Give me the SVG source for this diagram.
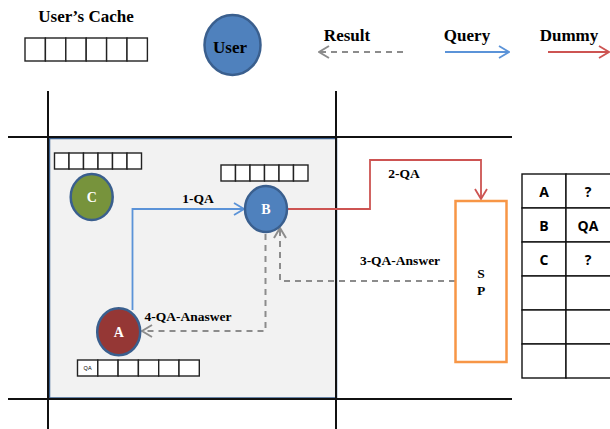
<svg xmlns="http://www.w3.org/2000/svg" width="610" height="429" viewBox="0 0 610 429">
  <style>
    .serif { font-family: "Liberation Serif", "Times New Roman", serif; font-weight: bold; fill: #000; }
    .lbl { font-size: 13.5px; text-anchor: middle; dominant-baseline: central; }
    .head { font-size: 17px; text-anchor: middle; dominant-baseline: central; }
    .node-txt { font-family: "Liberation Serif", serif; font-weight: bold; font-size: 14px; fill: #fff; text-anchor: middle; dominant-baseline: central; }
    .cell { fill: #fff; stroke: #222; stroke-width: 1.4; }
    .grid { stroke: #111; stroke-width: 2; fill: none; }
    .tbl { fill: #fff; stroke: #111; stroke-width: 1.4; }
    .tbl-txt { font-family: "Open Sans", "Liberation Sans", sans-serif; font-weight: bold; font-size: 14px; fill: #000; text-anchor: middle; dominant-baseline: central; }
    .query { stroke: #5b93d8; stroke-width: 1.8; fill: none; }
    .dummy { stroke: #cd5452; stroke-width: 1.8; fill: none; }
    .result { stroke: #8c8c8c; stroke-width: 2; fill: none; stroke-dasharray: 6 5; }
    .node { stroke: #3a5f8e; stroke-width: 2.5; }
  </style>
  <defs>
    <marker id="arrQuery" viewBox="0 0 12 14" refX="11" refY="7" markerWidth="12" markerHeight="14" markerUnits="userSpaceOnUse" orient="auto">
      <polyline points="1,1 11,7 1,13" fill="none" stroke="#5b93d8" stroke-width="1.8"/>
    </marker>
    <marker id="arrDummy" viewBox="0 0 12 14" refX="11" refY="7" markerWidth="12" markerHeight="14" markerUnits="userSpaceOnUse" orient="auto">
      <polyline points="1,1 11,7 1,13" fill="none" stroke="#cd5452" stroke-width="1.8"/>
    </marker>
    <marker id="arrResult" viewBox="0 0 12 14" refX="11" refY="7" markerWidth="12" markerHeight="14" markerUnits="userSpaceOnUse" orient="auto">
      <polyline points="1,1 11,7 1,13" fill="none" stroke="#8c8c8c" stroke-width="2"/>
    </marker>
  </defs>

  <rect width="610" height="429" fill="#fff"/>

  <!-- legend -->
  <g id="legend">
    <text class="serif head" x="86" y="16">User’s Cache</text>
    <g>
      <rect class="cell" x="25" y="38" width="20.4" height="23"/>
      <rect class="cell" x="45.4" y="38" width="20.4" height="23"/>
      <rect class="cell" x="65.8" y="38" width="20.4" height="23"/>
      <rect class="cell" x="86.2" y="38" width="20.4" height="23"/>
      <rect class="cell" x="106.6" y="38" width="20.4" height="23"/>
      <rect class="cell" x="127" y="38" width="20.4" height="23"/>
    </g>
    <ellipse class="node" cx="232.5" cy="45" rx="28" ry="30" fill="#4f81bd"/>
    <text class="serif head" x="230" y="47">User</text>

    <text class="serif head" x="347" y="35">Result</text>
    <line class="result" x1="403" y1="52" x2="319" y2="52" marker-end="url(#arrResult)"/>
    <text class="serif head" x="467" y="35">Query</text>
    <line class="query" x1="445" y1="52" x2="509" y2="52" marker-end="url(#arrQuery)"/>
    <text class="serif head" x="569" y="35">Dummy</text>
    <line class="dummy" x1="548" y1="52" x2="609" y2="52" marker-end="url(#arrDummy)"/>
  </g>

  <!-- region and grid -->
  <g id="region">
    <rect x="49.5" y="138.5" width="287" height="259.5" fill="#f2f2f2" stroke="#3a5f8e" stroke-width="1.5"/>
    <line class="grid" x1="48" y1="91" x2="48" y2="429"/>
    <line class="grid" x1="336" y1="91" x2="336" y2="429"/>
    <line class="grid" x1="8" y1="137" x2="512" y2="137"/>
    <line class="grid" x1="8" y1="399" x2="512" y2="399"/>
  </g>

  <!-- connectors -->
  <g id="connectors">
    <polyline class="query" points="132.5,310 132.5,209 244,209" marker-end="url(#arrQuery)"/>
    <text class="serif lbl" x="198" y="198">1-QA</text>
    <polyline class="dummy" points="288,209 370,209 370,160 481,160 481,199" marker-end="url(#arrDummy)"/>
    <text class="serif lbl" x="404" y="173">2-QA</text>
    <polyline class="result" points="455,281 280,281 280,228" marker-end="url(#arrResult)"/>
    <text class="serif lbl" x="400" y="260">3-QA-Answer</text>
    <polyline class="result" points="265.5,234 265.5,331 142,331" marker-end="url(#arrResult)"/>
    <text class="serif lbl" x="188" y="316">4-QA-Anaswer</text>
  </g>

  <!-- node C -->
  <g id="node-c">
    <g>
      <rect class="cell" x="54.5" y="153" width="14.5" height="16"/>
      <rect class="cell" x="69" y="153" width="14.5" height="16"/>
      <rect class="cell" x="83.5" y="153" width="14.5" height="16"/>
      <rect class="cell" x="98" y="153" width="14.5" height="16"/>
      <rect class="cell" x="112.5" y="153" width="14.5" height="16"/>
      <rect class="cell" x="127" y="153" width="14.5" height="16"/>
    </g>
    <ellipse class="node" cx="91.7" cy="197" rx="21" ry="23" fill="#77933c"/>
    <text class="node-txt" x="91.7" y="197">C</text>
  </g>

  <!-- node B -->
  <g id="node-b">
    <g>
      <rect class="cell" x="221" y="165" width="14.5" height="16"/>
      <rect class="cell" x="235.5" y="165" width="14.5" height="16"/>
      <rect class="cell" x="250" y="165" width="14.5" height="16"/>
      <rect class="cell" x="264.5" y="165" width="14.5" height="16"/>
      <rect class="cell" x="279" y="165" width="14.5" height="16"/>
      <rect class="cell" x="293.5" y="165" width="14.5" height="16"/>
    </g>
    <ellipse class="node" cx="266" cy="209" rx="21" ry="23" fill="#4f81bd"/>
    <text class="node-txt" x="266" y="209">B</text>
  </g>

  <!-- node A -->
  <g id="node-a">
    <g>
      <rect class="cell" x="77.5" y="360" width="20.3" height="16"/>
      <rect class="cell" x="97.8" y="360" width="20.3" height="16"/>
      <rect class="cell" x="118.1" y="360" width="20.3" height="16"/>
      <rect class="cell" x="138.4" y="360" width="20.3" height="16"/>
      <rect class="cell" x="158.7" y="360" width="20.3" height="16"/>
      <rect class="cell" x="179" y="360" width="20.3" height="16"/>
      <text x="87.6" y="368" font-family="Liberation Sans, sans-serif" font-size="5.5" text-anchor="middle" dominant-baseline="central" fill="#000">QA</text>
    </g>
    <ellipse class="node" cx="118.7" cy="331.7" rx="21.5" ry="23.5" fill="#953735"/>
    <text class="node-txt" x="118.7" y="332">A</text>
  </g>

  <!-- service provider -->
  <g id="node-sp">
    <rect x="455.5" y="201" width="51" height="161" fill="#fff" stroke="#f79646" stroke-width="2.5"/>
    <text class="serif lbl" x="481" y="273">S</text>
    <text class="serif lbl" x="481" y="290">P</text>
  </g>

  <!-- lookup table -->
  <g id="table">
    <rect class="tbl" x="522" y="174" width="44" height="34"/>
    <rect class="tbl" x="566" y="174" width="46" height="34"/>
    <rect class="tbl" x="522" y="208" width="44" height="34"/>
    <rect class="tbl" x="566" y="208" width="46" height="34"/>
    <rect class="tbl" x="522" y="242" width="44" height="34"/>
    <rect class="tbl" x="566" y="242" width="46" height="34"/>
    <rect class="tbl" x="522" y="276" width="44" height="34"/>
    <rect class="tbl" x="566" y="276" width="46" height="34"/>
    <rect class="tbl" x="522" y="310" width="44" height="34"/>
    <rect class="tbl" x="566" y="310" width="46" height="34"/>
    <rect class="tbl" x="522" y="344" width="44" height="34"/>
    <rect class="tbl" x="566" y="344" width="46" height="34"/>
    <text class="tbl-txt" x="544" y="191">A</text>
    <text class="tbl-txt" x="588" y="191">?</text>
    <text class="tbl-txt" x="544" y="225">B</text>
    <text class="tbl-txt" x="588" y="225">QA</text>
    <text class="tbl-txt" x="544" y="259">C</text>
    <text class="tbl-txt" x="588" y="259">?</text>
  </g>
</svg>
